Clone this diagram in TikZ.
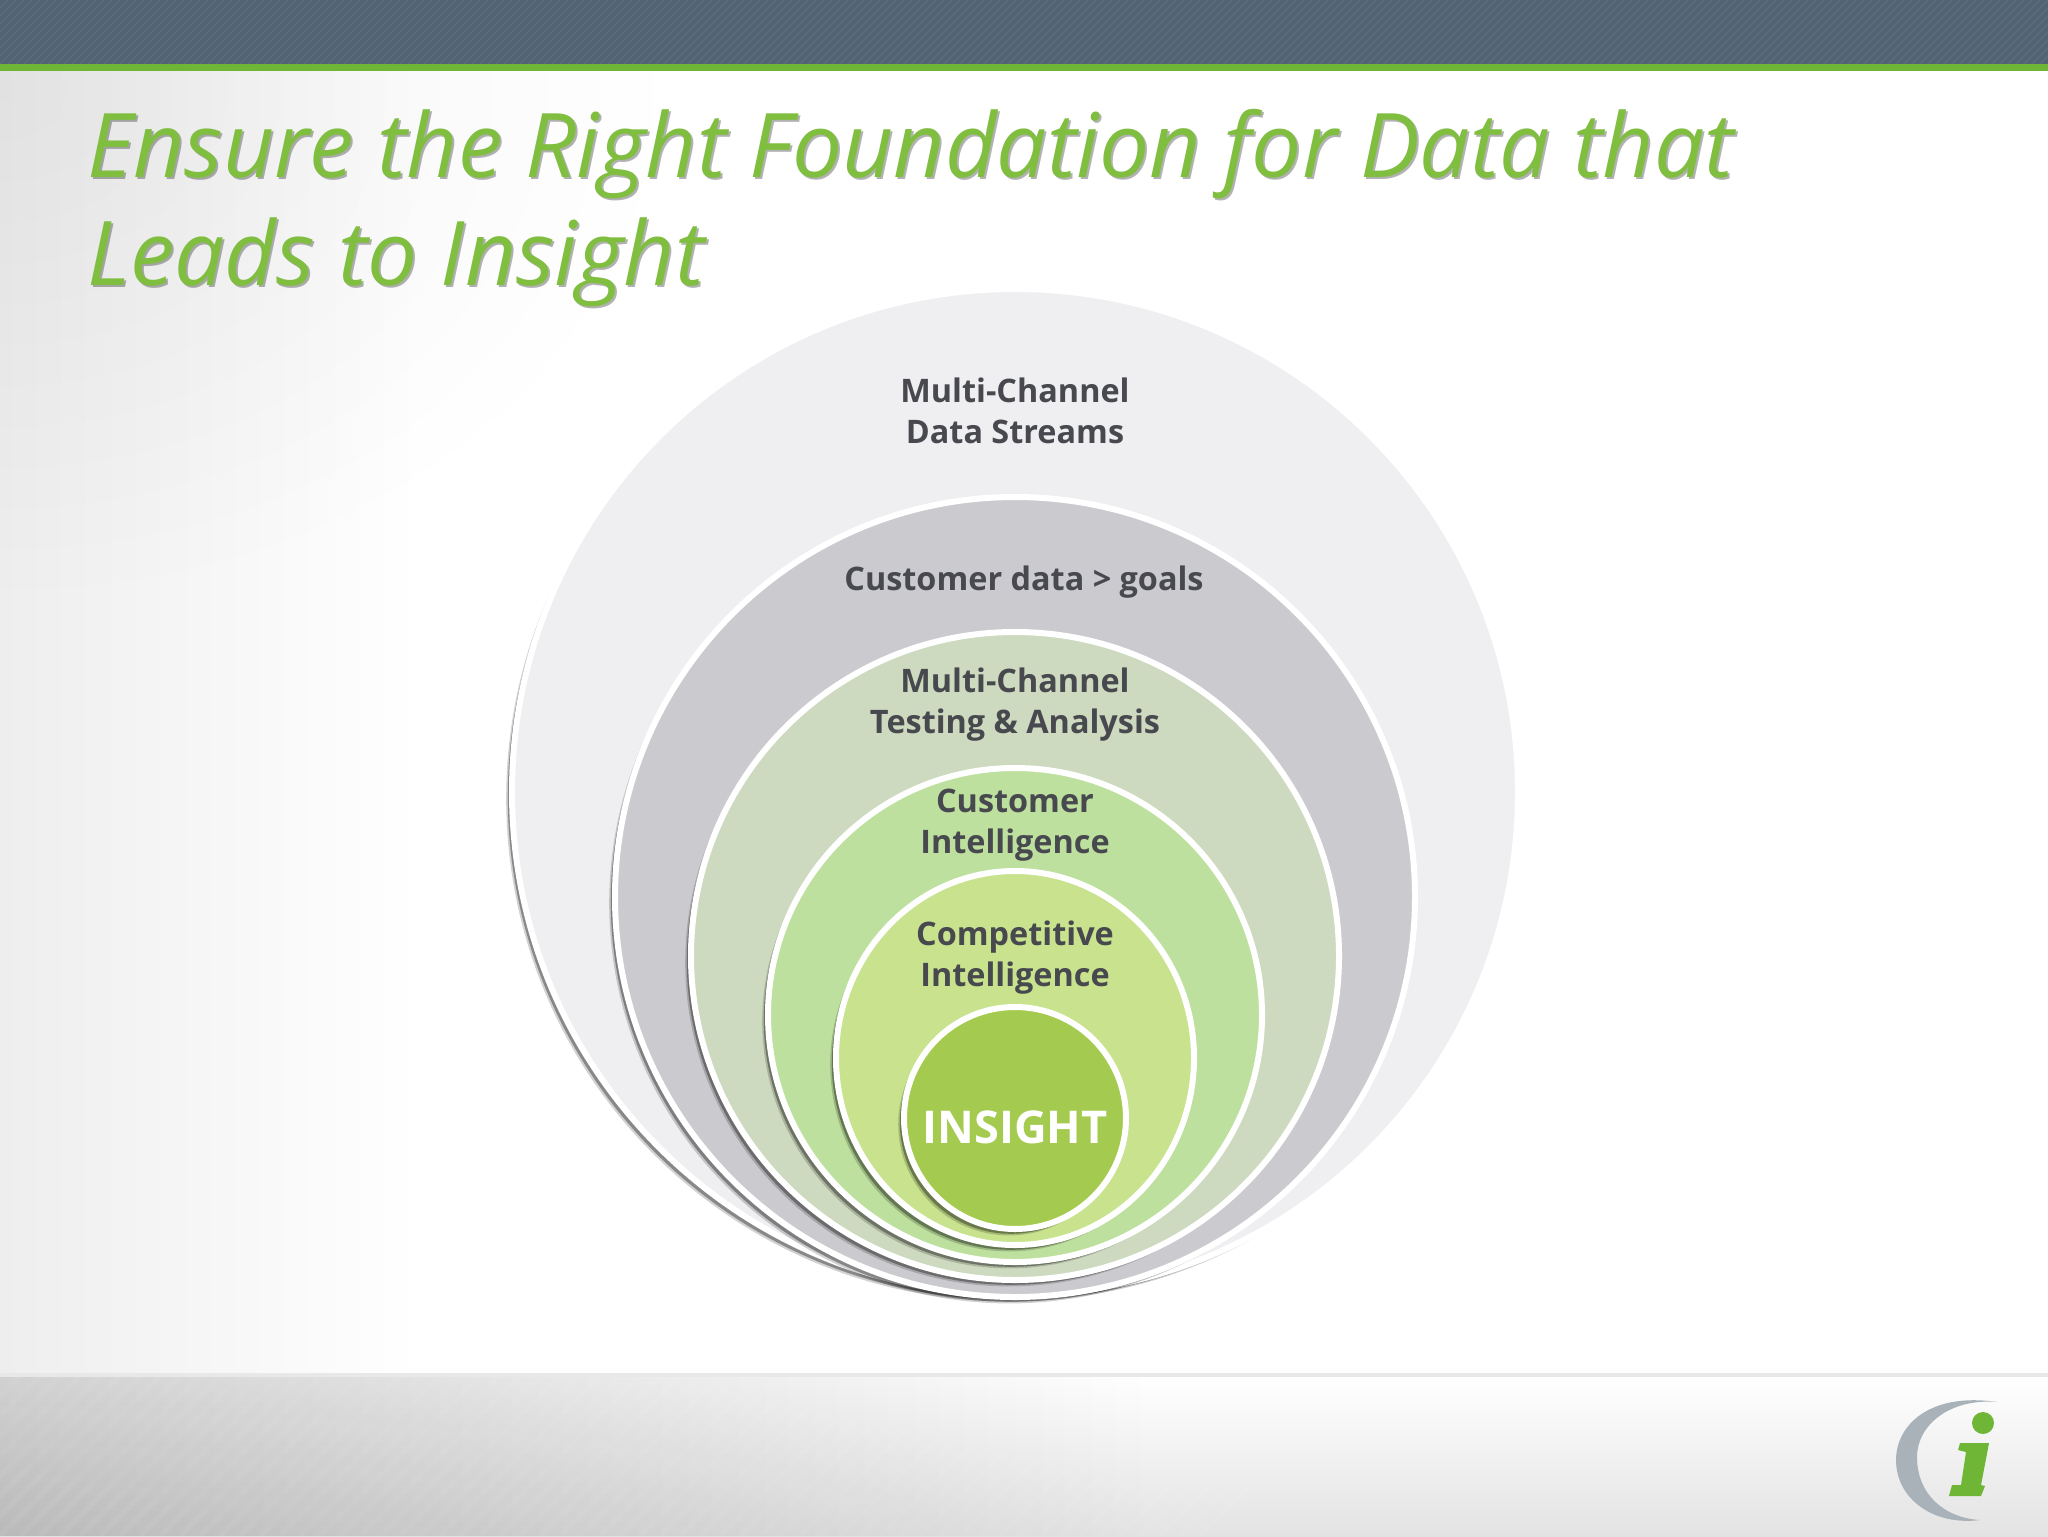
\documentclass[tikz,border=0pt]{standalone}
\usepackage{fontspec}
\setmainfont{Open Sans}
\usepackage{xcolor}
\usetikzlibrary{
    shapes,
    shapes.geometric,
    positioning,
    shadows,
    fadings,
    calc
}
\definecolor{barslate}{HTML}{516473}
\definecolor{barhatch}{HTML}{5C6D7A}
\definecolor{bargreen}{HTML}{6FB536}
\definecolor{titlegreen}{HTML}{80BE40}
\definecolor{labelgray}{HTML}{47494E}
\definecolor{logogray}{HTML}{A9B2B8}
\definecolor{ringa}{HTML}{EFEEF1}
\definecolor{ringb}{HTML}{CBCACE}
\definecolor{ringc}{HTML}{CDDABF}
\definecolor{ringd}{HTML}{BEE09E}
\definecolor{ringe}{HTML}{C8E28E}
\definecolor{ringf}{HTML}{A4CB4F}
\tikzset{
  ring/.style = {
      circle,
      draw=white,
      line width=3pt,
      inner sep=0pt,
      drop shadow={shadow xshift=-2.9pt, shadow yshift=-3.2pt, opacity=0.18, fill=black},
      drop shadow={shadow xshift=-2.1pt, shadow yshift=-2.4pt, opacity=0.35, fill=black}
  },
  heading/.style = {
      font=\fontsize{44.6}{54}\selectfont\itshape,
      align=left,
      anchor=north west,
      inner sep=0pt
  },
  ringlabel/.style = {
      font=\fontsize{16.2}{20.5}\selectfont\bfseries,
      text=labelgray,
      align=center,
      inner sep=0pt
  },
  core/.style = {
      font=\fontsize{22.6}{28}\selectfont\bfseries,
      text=white,
      inner sep=0pt
  },
  hatch/.style = {
      draw=barhatch,
      line width=0.7pt
  },
  softhatch/.style = {
      draw=white,
      opacity=0.05,
      line width=2.5pt
  }
}

\begin{document}
\begin{tikzpicture}[x=0.5pt, y=-0.5pt]
    \useasboundingbox (0,0) rectangle (2048,1536);
    % Background
    \fill[white] (0,0) rectangle (2048,1536);
    \begin{scope}
      \clip (0,71) rectangle (2048,1376);
      \shade[inner color=black!5, outer color=white] (0,90) ellipse (680 and 520);
    \end{scope}
    \fill[black, opacity=0.065, path fading=east] (0,71) rectangle (420,1376);
    % Top bar
    \fill[barslate] (0,0) rectangle (2048,64);
    \begin{scope}
      \clip (0,0) rectangle (2048,64);
      \foreach \x in {-64,-56,...,2056} {
        \draw[hatch] (\x,64) -- ({\x+64},0);
      }
    \end{scope}
    \fill[bargreen] (0,64) rectangle (2048,71);
    % Bottom band
    \shade[top color=white, bottom color=black!11] (0,1376) rectangle (2048,1536);
    \fill[black, opacity=0.18, path fading=east] (0,1376) rectangle (1150,1536);
    \begin{scope}
      \clip (0,1376) rectangle (2048,1536);
      \foreach \x in {-160,-140,...,1200} {
        \draw[softhatch] (\x,1536) -- ({\x+160},1376);
      }
    \end{scope}
    \fill[black!9] (0,1373) rectangle (2048,1377);
    % Logo
    \fill[logogray] (1997,1402) .. controls (1930,1392) and (1896,1425) .. (1896,1460)
      .. controls (1896,1500) and (1935,1526) .. (1980,1520)
      .. controls (1945,1518) and (1917,1495) .. (1917,1457)
      .. controls (1917,1425) and (1950,1398) .. (1997,1402) -- cycle;
    \fill[bargreen] (1983,1423) circle (11);
    \fill[bargreen] (1960,1443) -- (1989,1443) -- (1981,1485) -- (1985,1486) -- (1981,1496)
      -- (1949,1496) -- (1952,1485) -- (1961,1485) -- (1966,1452) -- (1958,1450) -- cycle;
    % Title
    \node[heading, text=black, opacity=0.3] (titleback) at (89,111)
      {Ensure the Right Foundation for Data that\\Leads to Insight};
    \node[heading, text=titlegreen] (title) at (87,109)
      {Ensure the Right Foundation for Data that\\Leads to Insight};
    % Rings
    \node[ring, fill=ringa, minimum size=503pt] (streams) at (1015,792) {};
    \node[ring, fill=ringb, minimum size=400pt] (customer) at (1015,897) {};
    \node[ring, fill=ringc, minimum size=324pt] (testing) at (1015,956) {};
    \node[ring, fill=ringd, minimum size=247pt] (intel) at (1015,1015) {};
    \node[ring, ellipse, fill=ringe, minimum width=179pt, minimum height=187pt] (compete) at (1015,1058) {};
    \node[ring, fill=ringf, minimum size=111pt] (insight) at (1015,1118) {};
    % Labels
    \node[ringlabel] (lstreams) at (1015,411) {Multi-Channel\\Data Streams};
    \node[ringlabel] (lcustomer) at (1024,582) {Customer data > goals};
    \node[ringlabel] (ltesting) at (1015,705) {Multi-Channel\\Testing \& Analysis};
    \node[ringlabel] (lintel) at (1015,825) {Customer\\Intelligence};
    \node[ringlabel] (lcompete) at (1015,958) {Competitive\\Intelligence};
    \node[core] (linsight) at (1015,1127) {INSIGHT};
\end{tikzpicture}
\end{document}
